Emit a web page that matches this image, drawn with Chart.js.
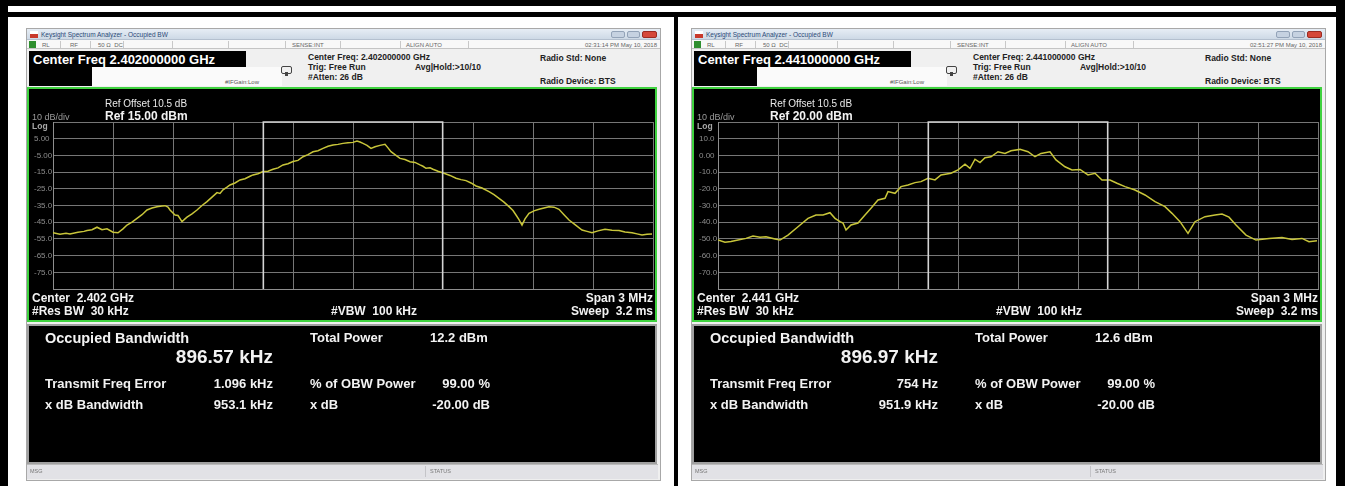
<!DOCTYPE html>
<html lang="en">
<head>
  <meta charset="UTF-8" />
  <title>Occupied BW – 2.402 GHz / 2.441 GHz</title>
  <script src="https://cdn.jsdelivr.net/npm/chart.js"></script>
  <style>
    body { margin: 0; width: 1345px; height: 486px; background: #fff; position: relative; overflow: hidden;
           font-family: 'Liberation Sans', Arial, sans-serif; }
    .abs { position: absolute; }
    .t { position: absolute; white-space: nowrap; line-height: 1; }
    .hd { font-size: 8.5px; font-weight: bold; color: #222; }
    .sm { font-size: 6px; color: #666; }
    .ch { font-size: 12px; font-weight: bold; color: #f2f2f2; }
    .res { font-size: 13px; font-weight: bold; color: #f2f2f2; }
  </style>
</head>
<body>
  <div id="sheet"></div>

  <script>
    // trace readings, frequency as offset from centre in kHz, level in dBm
    const leftFreq = [-1500,-1465,-1435,-1415,-1375,-1345,-1330,-1305,-1280,-1255,-1230,-1200,-1175,-1150,-1130,-1105,
      -1080,-1055,-1030,-1005,-980,-955,-940,-925,-915,-900,-890,-875,-855,-840,-830,-805,-780,-755,-730,-705,-680,-665,
      -650,-630,-615,-590,-565,-540,-515,-500,-475,-450,-425,-400,-375,-350,-325,-300,-275,-250,-225,-200,-175,-150,-125,
      -100,-75,-50,-25,0,20,35,50,70,90,110,135,160,175,190,210,235,260,285,310,335,350,365,385,400,425,455,485,515,540,
      565,590,615,645,680,705,730,755,780,800,815,830,845,860,880,905,930,955,980,1005,1030,1055,1080,1110,1145,1170,
      1195,1225,1260,1295,1330,1360,1395,1420,1445,1470,1495];
    const leftLevel = [-51.3,-52.2,-51.6,-52,-51,-50.5,-50,-49.5,-48,-49.5,-49,-51,-51.3,-49,-46.7,-45,
      -42.7,-40.5,-37.7,-36.5,-35.7,-35.3,-35.1,-36,-37.7,-39.5,-40.7,-41,-44.7,-43,-42,-40,-37.7,-35,-32.7,-30,-27.3,-27.8,
      -25.6,-24,-22.7,-21.5,-19.7,-19,-17.5,-16.7,-16,-14.7,-14.5,-13.3,-12.5,-10.7,-10,-8.7,-8,-5.8,-4.5,-2.8,-2.2,-0.8,0.5,
      1.2,1.6,2.2,2.6,2.8,3.6,3.0,2.2,1.0,-0.8,0.2,1.0,1.6,-0.5,-2.8,-4.5,-6.8,-7.5,-8.8,-9.2,-10.7,-11.5,-12.7,-12.4,-13.3,
      -14.5,-15.7,-17,-18.7,-19.5,-20.1,-21.5,-23.3,-24.5,-26.7,-28.5,-30.7,-33,-35.7,-38,-40.7,-43.5,-46.7,-43,-39.7,-38.2,
      -37.3,-36.5,-35.7,-36,-37.3,-40.5,-43.7,-46.5,-49.7,-50.5,-51.3,-50.2,-49.2,-49.8,-50,-50.8,-51.3,-52,-52.7,-52.2,-52];

    const rightFreq = [-1500,-1465,-1435,-1400,-1360,-1325,-1290,-1260,-1215,-1190,-1150,-1100,-1050,-1010,-975,-940,
      -915,-890,-875,-860,-835,-800,-765,-735,-700,-665,-650,-615,-585,-550,-515,-485,-450,-415,-385,-335,-300,-265,-240,
      -215,-190,-165,-135,-100,-65,-35,10,50,85,115,160,190,235,270,310,350,385,420,460,495,535,585,635,685,735,770,810,
      850,885,935,985,1020,1055,1090,1140,1190,1255,1320,1370,1420,1455,1495];
    const rightLevel = [-50.7,-52,-51.6,-50.7,-49.7,-48.3,-49,-48.7,-50,-50.7,-47.7,-42.7,-37.7,-35.7,-35.7,-34.3,
      -37.7,-39.7,-40.5,-44.7,-41.7,-40.5,-35.7,-31.7,-26.7,-25.7,-21.7,-22.7,-18.7,-17.7,-16.3,-15.7,-13.7,-14.7,-11.7,
      -10.7,-8.7,-5.3,-7.7,-2.3,-4.3,-1.4,-0.8,2.2,1.2,2.8,3.6,2.2,-0.8,1.2,2.2,-2.7,-6.8,-8.7,-8.4,-11.7,-10.7,-14.7,-14.7,
      -16.7,-18.7,-20.7,-23.7,-27.7,-30.7,-34.7,-39.7,-46.7,-39.7,-36.7,-35.7,-35.1,-37,-41.7,-47.7,-50.7,-49.7,-49.1,
      -50.3,-49.7,-51.7,-51.1];

    // occupied bandwidth edges (kHz) and the reference levels (dBm)
    const leftObwEdges = [-448.3, -448.3, 448.3, 448.3];
    const rightObwEdges = [-448.5, -448.5, 448.5, 448.5];
    const leftRef = 15;
    const rightRef = 20;
    const leftYLabels = ['', '5.00', '-5.00', '-15.0', '-25.0', '-35.0', '-45.0', '-55.0', '-65.0', '-75.0', ''];
    const rightYLabels = ['', '10.0', '0.00', '-10.0', '-20.0', '-30.0', '-40.0', '-50.0', '-60.0', '-70.0', ''];

    const sheet = document.getElementById('sheet');
    const add = html => sheet.insertAdjacentHTML('beforeend', html);
    const box = (x, y, w, h, st) => add(`<div class="abs" style="left:${x}px;top:${y}px;width:${w}px;height:${h}px;${st}"></div>`);

    // outer frame
    box(0, 0, 1345, 6, 'background:#000');
    box(0, 12, 1345, 5, 'background:#000');
    box(0, 0, 8, 486, 'background:#000');
    box(674, 12, 4, 474, 'background:#000');
    box(1336, 0, 9, 486, 'background:#000');

    function panel(dx, p) {
      const b = (x, y, w, h, st) => box(x + dx, y, w, h, st);
      const t = (x, y, s, cls, st = '') => add(`<div class="t ${cls}" style="left:${x + dx}px;top:${y}px;${st}">${s}</div>`);
      const r = (xr, y, s, cls, st = '') => add(`<div class="t ${cls}" style="right:${1345 - xr - dx}px;top:${y}px;${st}">${s}</div>`);

      b(27, 29, 633, 451, 'background:#efefef;box-shadow:0 0 0 1px #a8a8a8');
      // title bar
      b(27, 29, 633, 11, 'background:linear-gradient(#e6edf5,#cdd9e6);border-bottom:1px solid #b4c0cf;box-sizing:border-box');
      b(30, 31, 8, 7, 'background:linear-gradient(#fff 45%,#c8392b 45%)');
      t(41, 31.5, 'Keysight Spectrum Analyzer - Occupied BW', '', 'font-size:6.5px;color:#2b4a78');
      b(611, 31, 14, 7, 'background:#c6d2e1;border:1px solid #93a3b8;border-radius:2px;box-sizing:border-box');
      b(627, 31, 13, 7, 'background:#c6d2e1;border:1px solid #93a3b8;border-radius:2px;box-sizing:border-box');
      b(642, 31, 15, 7, 'background:#d5483a;border:1px solid #9c2b22;border-radius:2px;box-sizing:border-box');
      // status row
      b(27, 40, 633, 9, 'background:#f8f8f8;border-bottom:1px solid #c4c4c4;box-sizing:border-box');
      b(29, 41, 7, 7, 'background:#2f8f2f');
      t(42, 42, 'RL', 'sm');
      t(70, 42, 'RF', 'sm');
      t(98, 42, '50 Ω&nbsp;&nbsp;DC', 'sm');
      t(292, 42, 'SENSE:INT', 'sm');
      t(406, 42, 'ALIGN AUTO', 'sm');
      [60, 90, 123, 172, 228, 285, 340, 400, 468].forEach(x => b(x, 41, 1, 7, 'background:#c8c8c8'));
      r(657, 42, p.time, 'sm');
      // header
      b(27, 49, 633, 38, 'background:#f0f0f0');
      b(92, 67, 190, 19, 'background:#fafafa');
      b(29, 51, 217, 16, 'background:#000');
      b(29, 67, 63, 19, 'background:#000');
      t(33, 53, 'Center Freq ' + p.cf + ' GHz', '', 'font-size:13px;font-weight:bold;color:#fff');
      t(225, 79, '#IFGain:Low', '', 'font-size:6px;color:#555');
      b(281, 66, 11, 8, 'border:1px solid #444;border-radius:2px;box-sizing:border-box');
      b(285, 72, 3, 4, 'background:#444');
      t(308, 53, 'Center Freq: ' + p.cf + ' GHz', 'hd');
      t(308, 63, 'Trig: Free Run', 'hd');
      t(308, 73, '#Atten: 26 dB', 'hd');
      t(415, 63, 'Avg|Hold:&gt;10/10', 'hd');
      t(540, 54, 'Radio Std: None', 'hd');
      t(540, 77, 'Radio Device: BTS', 'hd');
      // trace display
      b(27, 87, 630, 235, 'background:#000;border:2px solid #3fd23f;box-sizing:border-box');
      add(`<div class="abs" style="left:${29 + dx}px;top:89px;width:626px;height:231px"><canvas id="${p.id}" width="626" height="231"></canvas></div>`);
      t(105, 99, 'Ref Offset 10.5 dB', '', 'font-size:10px;color:#e8e8e8');
      t(105, 110, 'Ref ' + p.ref + ' dBm', 'ch');
      t(32, 113, '10 dB/div', '', 'font-size:9px;color:#9a9a9a');
      t(32, 122, 'Log', '', 'font-size:8.5px;font-weight:bold;color:#a8a8a8');
      t(32, 292, 'Center&nbsp;&nbsp;' + p.center + ' GHz', 'ch');
      t(32, 305, '#Res BW&nbsp;&nbsp;30 kHz', 'ch');
      t(331, 305, '#VBW&nbsp;&nbsp;100 kHz', 'ch');
      r(653, 292, 'Span 3 MHz', 'ch');
      r(653, 305, 'Sweep&nbsp;&nbsp;3.2 ms', 'ch');
      // results panel
      b(27, 324, 630, 140, 'background:#000;border:2px solid #a0a0a0;box-sizing:border-box');
      t(45, 331, 'Occupied Bandwidth', '', 'font-size:14.5px;font-weight:bold;color:#f2f2f2');
      r(273, 347, p.obw + ' kHz', '', 'font-size:19px;font-weight:bold;color:#f2f2f2');
      t(310, 331, 'Total Power', 'res');
      t(430, 331, p.power + ' dBm', 'res');
      t(45, 377, 'Transmit Freq Error', 'res');
      r(273, 377, p.ferr, 'res');
      t(310, 377, '% of OBW Power', 'res');
      r(490, 377, '99.00 %', 'res');
      t(45, 398, 'x dB Bandwidth', 'res');
      r(273, 398, p.xdb + ' kHz', 'res');
      t(310, 398, 'x dB', 'res');
      r(490, 398, '-20.00 dB', 'res');
      // message bar
      b(27, 464, 631, 15, 'background:#e2e2e6;border-top:1px solid #bbb;box-sizing:border-box');
      b(425, 466, 1, 11, 'background:#c4c4c8');
      t(30, 469, 'MSG', '', 'font-size:5.5px;color:#777');
      t(430, 469, 'STATUS', '', 'font-size:5.5px;color:#777');
    }

    panel(0, { id: 'leftChart', time: '02:31:14 PM May 10, 2018', cf: '2.402000000', ref: '15.00', center: '2.402',
               obw: '896.57', power: '12.2', ferr: '1.096 kHz', xdb: '953.1' });
    panel(665, { id: 'rightChart', time: '02:51:27 PM May 10, 2018', cf: '2.441000000', ref: '20.00', center: '2.441',
                 obw: '896.97', power: '12.6', ferr: '754 Hz', xdb: '951.9' });

    function drawTrace(id, freq, level, edges, ref, yLabels) {
      const trace = freq.map((f, i) => ({ x: f, y: level[i] }));
      const edgeLevels = [ref - 100, ref, ref, ref - 100];
      const obw = edges.map((f, i) => ({ x: f, y: edgeLevels[i] }));
      new Chart(document.getElementById(id), {
        type: 'scatter',
        data: { datasets: [
          { data: obw, showLine: true, borderColor: '#d4d4d4', borderWidth: 1.6, pointRadius: 0, clip: false },
          { data: trace, showLine: true, borderColor: '#c8c53a', borderWidth: 1.5, pointRadius: 0 }
        ] },
        options: {
          responsive: false, animation: false, devicePixelRatio: 1,
          layout: { padding: { left: 5, top: 33, right: 2, bottom: 31 } },
          plugins: { legend: { display: false }, tooltip: { enabled: false } },
          scales: {
            x: { type: 'linear', min: -1500, max: 1500,
                 ticks: { display: false, stepSize: 300 },
                 grid: { color: '#767676', drawTicks: false },
                 border: { color: '#8e8e8e' },
                 afterFit: s => { s.height = 0; } },
            y: { min: ref - 100, max: ref,
                 ticks: { stepSize: 10, crossAlign: 'far', color: '#8d8d8d', font: { size: 8, family: 'Liberation Sans' },
                          callback: v => yLabels[Math.round((ref - v) / 10)] },
                 grid: { color: '#767676', drawTicks: false },
                 border: { color: '#8e8e8e' },
                 afterFit: s => { s.width = 19; } }
          }
        }
      });
    }

    drawTrace('leftChart', leftFreq, leftLevel, leftObwEdges, leftRef, leftYLabels);
    drawTrace('rightChart', rightFreq, rightLevel, rightObwEdges, rightRef, rightYLabels);
  </script>
</body>
</html>
